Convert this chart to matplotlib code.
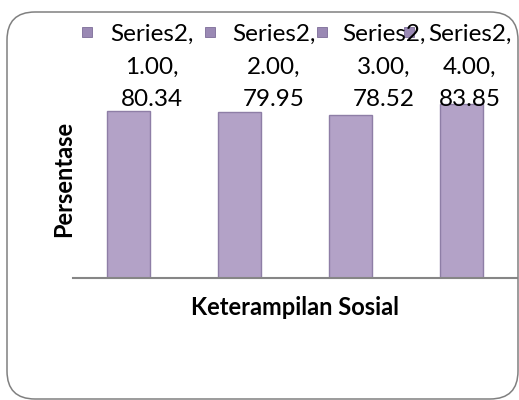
import matplotlib.pyplot as plt
from matplotlib.patches import FancyBboxPatch, Rectangle

# values
categories = ["1.00", "2.00", "3.00", "4.00"]
values = [80.34, 79.95, 78.52, 83.85]
series_name = "Series2"

BAR_COLOR = "#B3A2C7"
BAR_EDGE = "#8E7EA6"
MARK_COLOR = "#9A89B4"
FONT = "Lato"

plt.rcParams['font.family'] = [FONT, 'DejaVu Sans']

W, H, DPI = 519, 400, 100


def main():
	fig = plt.figure(figsize=(W / DPI, H / DPI), dpi=DPI, facecolor='w')

	# plot area in pixels: x 73..517, baseline at y=278
	ax = fig.add_axes([73 / W, (H - 278) / H, 444 / W, 176.8 / H])
	xs = list(range(len(values)))
	ax.bar(xs, values, width=0.39, color=BAR_COLOR, edgecolor=BAR_EDGE, linewidth=1.0)
	ax.set_xlim(-0.5, len(values) - 0.5)
	ax.set_ylim(0, 85)

	ax.set_xticks([])
	ax.set_yticks([])
	for spine in ('top', 'right', 'left'):
		ax.spines[spine].set_visible(False)
	ax.spines['bottom'].set_color('#868686')
	ax.spines['bottom'].set_linewidth(1.5)

	ax.set_ylabel("Persentase", fontsize=17, fontweight='bold')
	ax.yaxis.set_label_coords(0.004, 0.56)
	ax.set_xlabel("Keterampilan Sosial", fontsize=17, fontweight='bold')
	ax.xaxis.set_label_coords(0.5, -0.10)

	# legend entries, laid out like the Excel one (wrapped labels, marker on the first line)
	marker_x = [87, 210, 322, 409]
	text_left = [110, 232, 342, 428]
	for i, cat in enumerate(categories):
		label = f"{series_name},\n{cat},\n{values[i]:.2f}"
		fig.text(text_left[i] / W, 1 - 24 / H, label, ha='left', va='top',
		         multialignment='center', fontsize=17.5, linespacing=1.68, color='black')
		fig.add_artist(Rectangle(((marker_x[i] - 5) / DPI, (H - 37) / DPI), 10 / DPI, 10 / DPI,
		                         transform=fig.dpi_scale_trans, facecolor=MARK_COLOR,
		                         edgecolor='#7D6C98', linewidth=0.6))

	# rounded chart border
	border = FancyBboxPatch((7 / DPI, 1 / DPI), 511 / DPI, 387 / DPI,
	                        boxstyle="round,pad=0,rounding_size=0.28",
	                        transform=fig.dpi_scale_trans, facecolor='none',
	                        edgecolor='#808080', linewidth=1.1)
	fig.add_artist(border)

	plt.savefig("out.png", dpi=DPI)


if __name__ == '__main__':
	main()
